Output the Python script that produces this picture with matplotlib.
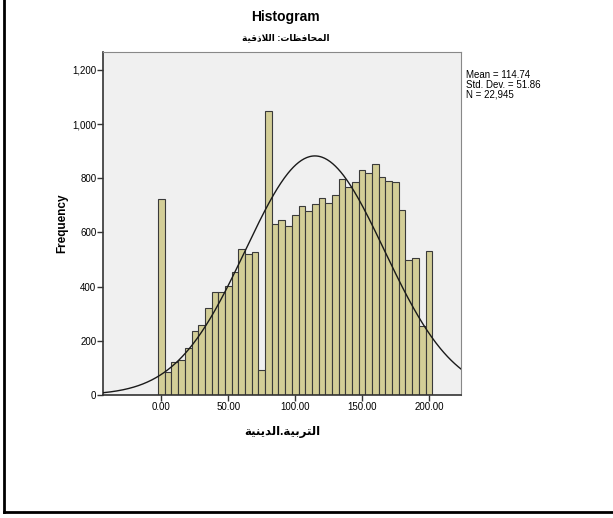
#!/usr/bin/env python3
"""SPSS-style histogram with normal curve, Latakia governorate."""
import matplotlib

matplotlib.use("Agg")
import matplotlib.pyplot as plt
import numpy as np
from matplotlib.lines import Line2D

# bin centres (width 5) and counts
bin_centers = list(range(0, 205, 5))
counts = [725, 85, 122, 129, 172, 236, 260, 322, 379, 379, 404, 453, 538, 521,
          529, 92, 1049, 632, 646, 625, 663, 697, 679, 704, 729, 710, 740, 797,
          769, 786, 832, 818, 854, 804, 791, 788, 684, 498, 506, 256, 532]
bin_width = 5.0
mean, std, n_obs = 114.74, 51.86, 22945

x_ticks = [0, 50, 100, 150, 200]
y_ticks = [0, 200, 400, 600, 800, 1000, 1200]

title = "Histogram"
subtitle = "المحافظات: اللاذقية"
xlabel = "التربية.الدينية"

# --- minimal Arabic shaping (matplotlib has no complex text layout) ---
FORMS = {  # isolated, final, initial, medial
    "ا": ("\uFE8D", "\uFE8E", None, None),
    "ب": ("\uFE8F", "\uFE90", "\uFE91", "\uFE92"),
    "ة": ("\uFE93", "\uFE94", None, None),
    "ت": ("\uFE95", "\uFE96", "\uFE97", "\uFE98"),
    "ح": ("\uFEA1", "\uFEA2", "\uFEA3", "\uFEA4"),
    "د": ("\uFEA9", "\uFEAA", None, None),
    "ذ": ("\uFEAB", "\uFEAC", None, None),
    "ر": ("\uFEAD", "\uFEAE", None, None),
    "ظ": ("\uFEC5", "\uFEC6", "\uFEC7", "\uFEC8"),
    "ف": ("\uFED1", "\uFED2", "\uFED3", "\uFED4"),
    "ق": ("\uFED5", "\uFED6", "\uFED7", "\uFED8"),
    "ل": ("\uFEDD", "\uFEDE", "\uFEDF", "\uFEE0"),
    "م": ("\uFEE1", "\uFEE2", "\uFEE3", "\uFEE4"),
    "ن": ("\uFEE5", "\uFEE6", "\uFEE7", "\uFEE8"),
    "ي": ("\uFEF1", "\uFEF2", "\uFEF3", "\uFEF4"),
    "لا": ("\uFEFB", "\uFEFC", None, None),
}


def rtl(text):
    """Shape Arabic letters and return them in left-to-right visual order."""
    units, i = [], 0
    while i < len(text):
        if text[i] == "ل" and i + 1 < len(text) and text[i + 1] == "ا":
            units.append("لا")
            i += 2
        else:
            units.append(text[i])
            i += 1
    out = []
    for k, u in enumerate(units):
        if u not in FORMS:
            out.append(u)
            continue
        iso, fin, ini, med = FORMS[u]
        prev_joins = k > 0 and units[k - 1] in FORMS and FORMS[units[k - 1]][2] is not None
        next_ok = k + 1 < len(units) and units[k + 1] in FORMS and ini is not None
        if prev_joins and next_ok:
            out.append(med)
        elif prev_joins:
            out.append(fin)
        elif next_ok:
            out.append(ini)
        else:
            out.append(iso)
    return "".join(reversed(out))


plt.rcParams["font.family"] = ["Liberation Sans", "DejaVu Sans"]

fig = plt.figure(figsize=(6.13, 5.18), dpi=100)
ax = fig.add_axes([0.1685, 0.2375, 0.5835, 0.662])
ax.set_facecolor("#F0F0F0")

ax.bar(bin_centers, counts, width=bin_width, color="#D3CE97",
       edgecolor="#3A3A3A", linewidth=0.8, zorder=2)

xs = np.linspace(-43.5, 224, 400)
ys = n_obs * bin_width * np.exp(-0.5 * ((xs - mean) / std) ** 2) / (std * np.sqrt(2 * np.pi))
ax.plot(xs, ys, color="#1A1A1A", lw=1.0, zorder=3)

ax.set_xlim(-43.5, 224)
ax.set_ylim(0, 1266)
ax.set_xticks(x_ticks)
ax.set_xticklabels([f"{v:.2f}" for v in x_ticks])
ax.set_yticks(y_ticks)
ax.set_yticklabels([f"{v:,}" for v in y_ticks])
ax.tick_params(axis="both", labelsize=7, length=4, width=1, color="#333333", pad=1)
for side in ("top", "right"):
    ax.spines[side].set_color("#888888")
for side in ("left", "bottom"):
    ax.spines[side].set_color("#333333")
    ax.spines[side].set_linewidth(1.2)

ax.set_ylabel("Frequency", fontsize=8.5, fontweight="bold", labelpad=3)
ax.set_xlabel(rtl(xlabel), fontsize=8.5, fontweight="bold", labelpad=10)

fig.text(0.466, 0.967, title, ha="center", va="center", fontsize=10, fontweight="bold")
fig.text(0.466, 0.928, rtl(subtitle), ha="center", va="center",
         fontsize=6.5, fontweight="bold")

fig.text(0.760, 0.865, f"Mean = {mean:.2f}\nStd. Dev. = {std:.2f}\nN = {n_obs:,}",
         ha="left", va="top", fontsize=7, linespacing=1.0)

# outer frame of the output viewer
fig.add_artist(Line2D([0.007, 0.007], [0.012, 1.0], color="black", lw=2))
fig.add_artist(Line2D([0.007, 1.0], [0.012, 0.012], color="black", lw=2))

fig.savefig("out.png", dpi=100)
